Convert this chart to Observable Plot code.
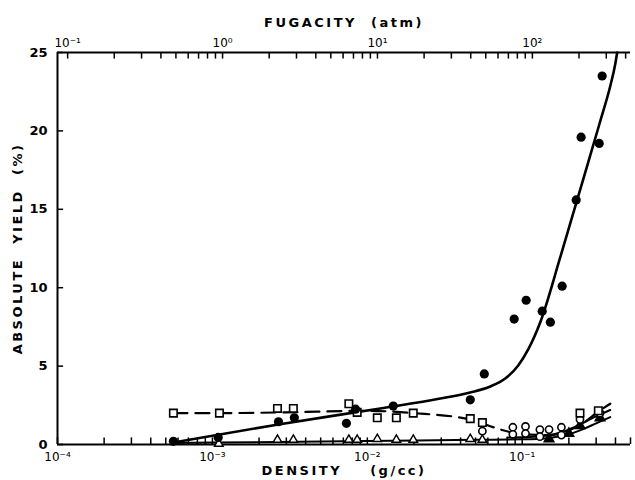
<!DOCTYPE html>
<html>
<head>
<meta charset="utf-8">
<script src="https://cdn.jsdelivr.net/npm/d3@7"></script>
<script src="https://cdn.jsdelivr.net/npm/@observablehq/plot@0.6"></script>
<style>
  body { margin: 0; background: #fff; }
  #chart svg { display: block; }
</style>
</head>
<body>
<div id="chart"></div>
<script>
// Absolute yield (%) against density (g/cc); fugacity (atm) along the top.

// Filled circles and their fitted curve
const filledDensity = [5.6e-4, 1.09e-3, 2.67e-3, 3.38e-3, 7.33e-3, 8.4e-3, 0.0147, 0.0462, 0.0569, 0.0887, 0.106, 0.1346, 0.152, 0.181, 0.223, 0.240, 0.314, 0.328];
const filledYield   = [0.2, 0.45, 1.45, 1.7, 1.35, 2.25, 2.45, 2.85, 4.5, 8.0, 9.2, 8.5, 7.8, 10.1, 15.6, 19.6, 19.2, 23.5];
const fitDensity = [5.6e-4, 2.666e-3, 0.01213, 0.02958, 0.04618, 0.06218, 0.07768, 0.09423, 0.1093, 0.1306, 0.1759, 0.2367, 0.3185, 0.3695, 0.3981, 0.4101];
const fitYield   = [0.13, 1.28, 2.30, 2.93, 3.32, 3.70, 4.21, 5.04, 6.06, 7.78, 11.93, 16.26, 20.60, 22.83, 24.23, 25.0];

// Open squares and their dashed curve
const squareDensity = [5.6e-4, 1.11e-3, 2.63e-3, 3.33e-3, 7.6e-3, 8.6e-3, 0.0116, 0.0154, 0.0198, 0.0462, 0.0553, 0.236, 0.31];
const squareYield   = [2.0, 2.0, 2.3, 2.3, 2.6, 2.05, 1.7, 1.7, 2.0, 1.65, 1.4, 2.0, 2.15];
const dashDensity = [5.6e-4, 1e-3, 3e-3, 1e-2, 2e-2, 0.046, 0.07, 0.1, 0.15, 0.2, 0.25, 0.3, 0.37];
const dashYield   = [2.0, 2.0, 2.05, 2.15, 2.0, 1.6, 1.0, 0.65, 0.6, 0.9, 1.4, 2.0, 2.6];

// Open circles
const openDensity = [0.0553, 0.087, 0.087, 0.105, 0.105, 0.130, 0.130, 0.149, 0.179, 0.179, 0.236, 0.318];
const openYield   = [0.85, 1.1, 0.65, 1.15, 0.7, 0.95, 0.5, 0.95, 1.1, 0.6, 1.6, 2.0];
const openFitDensity = [0.08, 0.12, 0.16, 0.2, 0.25, 0.3, 0.37];
const openFitYield   = [0.45, 0.5, 0.65, 0.95, 1.4, 1.8, 2.2];

// Open triangles, filled triangles and the low solid curve
const triDensity = [1.1e-3, 2.63e-3, 3.33e-3, 7.6e-3, 8.6e-3, 0.0116, 0.0154, 0.0198, 0.0462, 0.0553];
const triYield   = [0.05, 0.3, 0.3, 0.3, 0.3, 0.35, 0.3, 0.3, 0.35, 0.3];
const filledTriDensity = [0.149, 0.2, 0.236, 0.318];
const filledTriYield   = [0.35, 0.7, 1.2, 1.7];
const lowDensity = [5.6e-4, 1e-3, 1e-2, 0.05, 0.1, 0.15, 0.2, 0.25, 0.3, 0.37];
const lowYield   = [0.1, 0.12, 0.22, 0.3, 0.33, 0.42, 0.65, 1.0, 1.35, 1.75];

// Axis ticks and labels
const densityTicks = [1e-4, 1e-3, 1e-2, 1e-1];
const densityLabels = ["10\u207B\u2074", "10\u207B\u00B3", "10\u207B\u00B2", "10\u207B\u00B9"];
const fugacityTicks = [0.1, 1, 10, 100];
const fugacityLabels = ["10\u207B\u00B9", "10\u2070", "10\u00B9", "10\u00B2"];
const yieldTicks = [0, 5, 10, 15, 20, 25];
const atmPerGcc = 860; // fugacity (atm) per unit density on the top scale

const pairs = (xs, ys) => xs.map((x, i) => ({x, y: ys[i]}));
const filled = pairs(filledDensity, filledYield);
const fit = pairs(fitDensity, fitYield);
const squares = pairs(squareDensity, squareYield);
const dashed = pairs(dashDensity, dashYield);
const open = pairs(openDensity, openYield);
const openFit = pairs(openFitDensity, openFitYield);
const tris = pairs(triDensity, triYield);
const filledTris = pairs(filledTriDensity, filledTriYield);
const low = pairs(lowDensity, lowYield);

// label lookup for log ticks
const labelFor = (ticks, labels) => d =>
  labels[ticks.findIndex(t => Math.abs(Math.log10(t) - Math.log10(d)) < 1e-6)];
const fugacityAsDensity = fugacityTicks.map(f => f / atmPerGcc);

const W = 635, H = 480;
const mL = 57, mR = 5, mT = 52, mB = 36;

const minorDensity = d3.scaleLog().domain([1e-4, 0.5]).ticks();
const minorFugacity = d3.scaleLog().domain([0.1, 500]).ticks().map(f => f / atmPerGcc);
const tickLen = 0.42;      // inward tick length on the yield axis (units of %)
const tickLenX = 1.095;    // inward tick length on the log density axis (ratio)

const font = "'DejaVu Sans', sans-serif";

const chart = Plot.plot({
  width: W,
  height: H,
  marginLeft: mL,
  marginRight: mR,
  marginTop: mT,
  marginBottom: mB,
  style: {fontFamily: font, fontSize: "11px", color: "#000", background: "#fff"},
  x: {type: "log", domain: [1e-4, 0.5], axis: null},
  y: {domain: [0, 25], axis: null},
  marks: [
    // frame: left, top and bottom lines
    Plot.ruleX([1e-4], {stroke: "#000", strokeWidth: 2}),
    Plot.ruleY([0, 25], {stroke: "#000", strokeWidth: 2}),
    // inward ticks
    Plot.ruleX(minorDensity, {x: d => d, y1: 0, y2: tickLen, stroke: "#000", strokeWidth: 1.5}),
    Plot.ruleX(minorFugacity, {x: d => d, y1: 25, y2: 25 - tickLen, stroke: "#000", strokeWidth: 1.5}),
    Plot.ruleY(yieldTicks, {y: d => d, x1: 1e-4, x2: 1e-4 * tickLenX, stroke: "#000", strokeWidth: 1.5}),
    // tick labels
    Plot.axisX({anchor: "bottom", ticks: densityTicks, tickSize: 0, tickPadding: 8,
      tickFormat: labelFor(densityTicks, densityLabels), label: null, fontSize: 12}),
    Plot.axisX({anchor: "top", ticks: fugacityAsDensity, tickSize: 0, tickPadding: 6,
      tickFormat: labelFor(fugacityAsDensity, fugacityLabels), label: null, fontSize: 12}),
    Plot.axisY({anchor: "left", ticks: yieldTicks, tickSize: 0, tickPadding: 10, label: null, fontSize: 13, fontWeight: "bold"}),
    // axis titles
    Plot.text(["DENSITY    (g/cc)"], {frameAnchor: "bottom", dy: 30, fontSize: 13, fontWeight: "bold"}),
    Plot.text(["FUGACITY  (atm)"], {frameAnchor: "top", dy: -35, fontSize: 13, fontWeight: "bold"}),
    Plot.text(["ABSOLUTE  YIELD  (%)"], {frameAnchor: "left", dx: -40, rotate: -90, textAnchor: "middle",
      fontSize: 13, fontWeight: "bold"}),
    // curves
    Plot.line(low, {x: "x", y: "y", curve: "monotone-x", stroke: "#000", strokeWidth: 2}),
    Plot.line(openFit, {x: "x", y: "y", curve: "monotone-x", stroke: "#000", strokeWidth: 2}),
    Plot.line(dashed, {x: "x", y: "y", curve: "monotone-x", stroke: "#000", strokeWidth: 2.2, strokeDasharray: "14,8"}),
    Plot.line(fit, {x: "x", y: "y", curve: "monotone-x", stroke: "#000", strokeWidth: 2.6}),
    // points
    Plot.dot(tris, {x: "x", y: "y", symbol: "triangle", r: 3.2, fill: "#fff", stroke: "#000", strokeWidth: 1.4}),
    Plot.dot(filledTris, {x: "x", y: "y", symbol: "triangle", r: 3.6, fill: "#000", stroke: "#000"}),
    Plot.dot(open, {x: "x", y: "y", r: 3.6, fill: "#fff", stroke: "#000", strokeWidth: 1.6}),
    Plot.dot(squares, {x: "x", y: "y", symbol: "square", r: 4.2, fill: "#fff", stroke: "#000", strokeWidth: 1.6}),
    Plot.dot(filled, {x: "x", y: "y", r: 4.6, fill: "#000", stroke: "none"})
  ]
});

// letter spacing on the title texts
d3.select(chart).selectAll("text").filter(function() {
  return /[A-Z]{3}/.test(this.textContent);
}).style("letter-spacing", "2.5px");

document.getElementById("chart").appendChild(chart);
</script>
</body>
</html>
